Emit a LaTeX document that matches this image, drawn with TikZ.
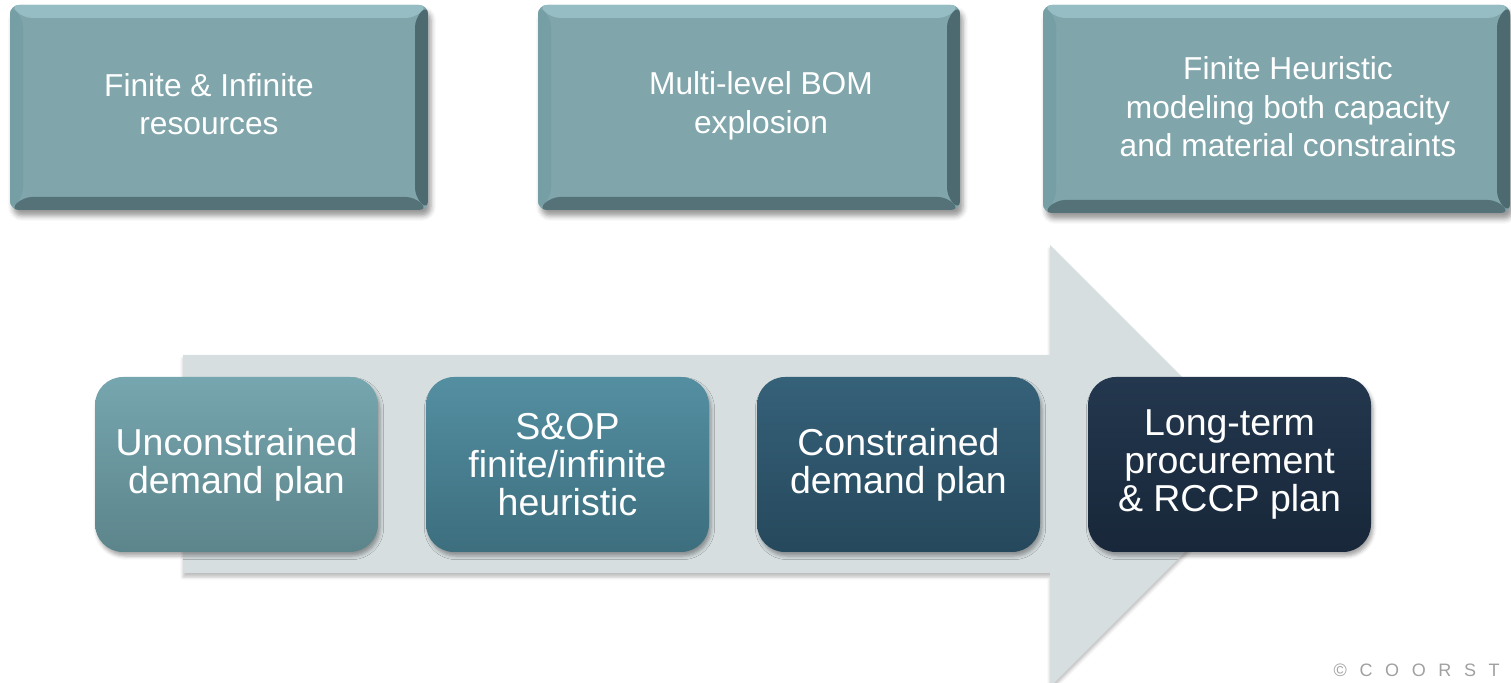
\documentclass[tikz,border=0pt]{standalone}
\usepackage{fontspec}
\setmainfont{Liberation Sans}
\usetikzlibrary{shadows.blur}

\definecolor{arrowgray}{RGB}{214,222,224}
\definecolor{capface}{RGB}{128,166,172}
\definecolor{captop}{RGB}{150,189,195}
\definecolor{capleft}{RGB}{118,158,165}
\definecolor{capright}{RGB}{76,106,112}
\definecolor{capbottom}{RGB}{84,114,120}
\definecolor{sOneTop}{RGB}{118,166,175}
\definecolor{sOneBot}{RGB}{92,132,139}
\definecolor{sTwoTop}{RGB}{84,143,161}
\definecolor{sTwoBot}{RGB}{60,110,126}
\definecolor{sThreeTop}{RGB}{53,97,121}
\definecolor{sThreeBot}{RGB}{38,72,92}
\definecolor{sFourTop}{RGB}{35,55,78}
\definecolor{sFourBot}{RGB}{24,39,57}
\definecolor{notegray}{RGB}{160,160,160}

\tikzset{
  capbox/.style={fill=capface, rounded corners=4.5pt, inner sep=0pt, outer sep=0pt,
    blur shadow={shadow xshift=1.5pt, shadow yshift=-3pt, shadow blur radius=2.5pt, shadow opacity=40},
    path picture={
      \fill[captop] (path picture bounding box.north west) -- (path picture bounding box.north east)
        -- ([xshift=-6.5pt,yshift=-6.5pt]path picture bounding box.north east)
        -- ([xshift=6.5pt,yshift=-6.5pt]path picture bounding box.north west) -- cycle;
      \fill[capleft] (path picture bounding box.north west) -- (path picture bounding box.south west)
        -- ([xshift=6.5pt,yshift=6.5pt]path picture bounding box.south west)
        -- ([xshift=6.5pt,yshift=-6.5pt]path picture bounding box.north west) -- cycle;
      \fill[capright] (path picture bounding box.north east) -- (path picture bounding box.south east)
        -- ([xshift=-6.5pt,yshift=6.5pt]path picture bounding box.south east)
        -- ([xshift=-6.5pt,yshift=-6.5pt]path picture bounding box.north east) -- cycle;
      \fill[capbottom] (path picture bounding box.south west) -- (path picture bounding box.south east)
        -- ([xshift=-6.5pt,yshift=6.5pt]path picture bounding box.south east)
        -- ([xshift=6.5pt,yshift=6.5pt]path picture bounding box.south west) -- cycle;
    }},
  captext/.style={text=white, align=center, inner sep=0pt,
    font=\fontsize{15.85pt}{19.25pt}\selectfont},
  stagebox/.style={rounded corners=14pt, minimum width=141.5pt, minimum height=87.5pt,
    inner sep=0pt, outer sep=0pt, text=white, align=center,
    font=\fontsize{18.75pt}{19pt}\selectfont,
    blur shadow={shadow xshift=1pt, shadow yshift=-2pt, shadow blur radius=1.8pt, shadow opacity=35}},
  flowarrow/.style={fill=arrowgray,
    blur shadow={shadow xshift=0pt, shadow yshift=-2pt, shadow blur radius=1.5pt, shadow opacity=25}},
}

\begin{document}
\begin{tikzpicture}[x=0.5pt, y=-0.5pt]
  \path[use as bounding box] (0,0) rectangle (1511,683);
  \clip (0,0) rectangle (1511,683);

  % broad background arrow carrying the planning stages
  \fill[flowarrow] (183,355) -- (1050,355) -- (1050,245) -- (1271,466)
    -- (1050,687) -- (1050,573) -- (183,573) -- cycle;

  % capability caps along the top
  \node[capbox, minimum width=209pt, minimum height=102.5pt] (capA) at (219,107.5) {};
  \node[capbox, minimum width=211pt, minimum height=102.5pt] (capB) at (749,107.5) {};
  \node[capbox, minimum width=233.5pt, minimum height=104pt] (capC) at (1276.5,109) {};

  \node[captext] (capAtext) at (209,104) {Finite \& Infinite\\resources};
  \node[captext] (capBtext) at (761,106) {Multi-level BOM\\explosion};
  \node[captext] (capCtext) at (1288,107) {Finite Heuristic\\modeling both capacity\\and material constraints};

  % planning stages
  \node[stagebox, top color=sOneTop, bottom color=sOneBot] (stage1) at (236.5,464.5)
    {Unconstrained\\demand plan};
  \node[stagebox, top color=sTwoTop, bottom color=sTwoBot] (stage2) at (567.5,464.5)
    {S\&OP\\finite/infinite\\heuristic};
  \node[stagebox, top color=sThreeTop, bottom color=sThreeBot] (stage3) at (898.5,464.5)
    {Constrained\\demand plan};
  \node[stagebox, top color=sFourTop, bottom color=sFourBot] (stage4) at (1229.5,464.5)
    {Long-term\\procurement\\\& RCCP plan};

  % copyright line
  \node[anchor=base east, inner sep=0pt, text=notegray,
    font=\fontsize{9pt}{10pt}\selectfont] (copyright) at (1500,677)
    {\spaceskip=6.3pt\relax © C O O R S T};
\end{tikzpicture}
\end{document}
